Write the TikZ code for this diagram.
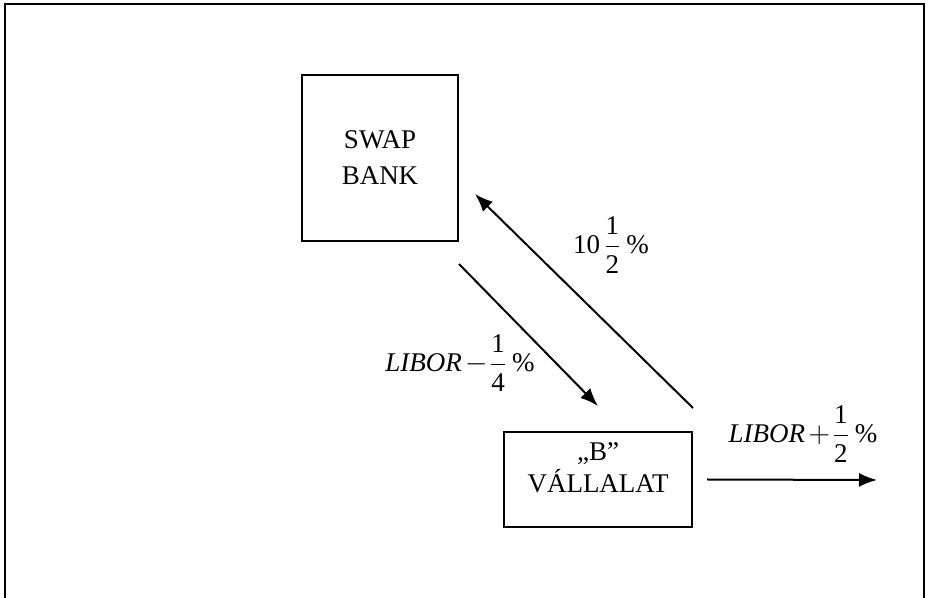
\documentclass[tikz,border=0pt]{standalone}
\usepackage{amsmath}
\usepackage{fontspec}
\setmainfont{Liberation Serif}
\usetikzlibrary{arrows.meta,calc}

\begin{document}
\begin{tikzpicture}[x=0.5pt,y=-0.5pt,
  box/.style={draw,line width=1pt,inner sep=0pt,align=center,
    font=\fontsize{13.5}{18}\selectfont},
  arr/.style={-{Latex[length=9pt,width=7pt]},line width=1pt},
  lbl/.style={inner sep=0pt,font=\fontsize{13.5}{15}\selectfont}
]
\useasboundingbox (0,0) rectangle (928,598);
% outer frame, open at the bottom
\draw[line width=1.3pt] (5,598) -- (5,4) -- (924,4) -- (924,598);

\node[box,minimum width=78pt,minimum height=83pt]
  (SB) at (380,158) {SWAP\\BANK};
\node[box,minimum width=94pt,minimum height=47.5pt,font=\fontsize{13.5}{15.8}\selectfont]
  (BV) at (598,479.5) {„B”\\VÁLLALAT\\[-4pt]};

\coordinate (out) at (877,480);

\draw[arr] ($(SB.south east)+(0,22)$) -- ($(BV.north)+(0,-25)$);
\draw[arr] ($(BV.north east)+(0,-23)$) -- ($(SB.east)+(16,36)$);
\draw[arr] ($(BV.east)+(14,0)$) -- (out);

\node[lbl] (fix) at (611,245) {$\text{10}\mkern2mu\dfrac{\text{1}}{\text{2}}\,\text{\%}$};
\node[lbl] (pay) at (460,363) {$\textit{LIBOR}\mkern2mu{-}\mkern1mu\dfrac{\text{1}}{\text{4}}\,\text{\%}$};
\node[lbl] (loan) at (803,434) {$\textit{LIBOR}\mkern2mu{+}\mkern1mu\dfrac{\text{1}}{\text{2}}\,\text{\%}$};
\end{tikzpicture}
\end{document}
